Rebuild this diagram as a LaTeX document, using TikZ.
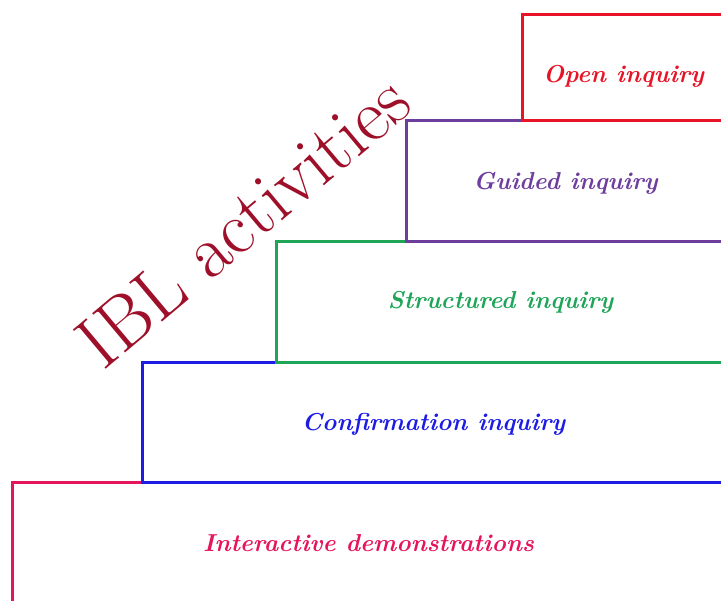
\documentclass[tikz,border=0pt]{standalone}
\usetikzlibrary{positioning}

\definecolor{openred}{RGB}{230,20,38}
\definecolor{guidedpurple}{RGB}{110,62,158}
\definecolor{structgreen}{RGB}{30,165,88}
\definecolor{confblue}{RGB}{28,28,228}
\definecolor{interpink}{RGB}{230,20,92}
\definecolor{iblred}{RGB}{158,16,42}

\begin{document}
\begin{tikzpicture}
    [x=1pt,y=-1pt,
    stepbox/.style={rectangle,draw=#1,text=#1,line width=3pt,
                    anchor=north west,inner sep=0pt,outer sep=0pt,
                    font=\fontsize{24.5}{28}\selectfont\bfseries\itshape},
    ibltitle/.style={text=iblred,rotate=40,inner sep=0pt,
                     font=\fontsize{75}{80}\selectfont}]

    \useasboundingbox (0,0) rectangle (721,601);
    \clip (0,0) rectangle (721,601);

    % lowest step first, so the upper edges lie on top
    \node[stepbox=interpink,minimum width=713pt,minimum height=120pt]
        (interactive) at (12,483) {Interactive demonstrations};
    \node[stepbox=confblue,minimum width=583pt,minimum height=120pt,
          text height=20pt]
        (confirmation) at (142,363) {Confirmation inquiry};
    \node[stepbox=structgreen,minimum width=449pt,minimum height=121pt]
        (structured) at (276,242) {Structured inquiry};
    \node[stepbox=guidedpurple,minimum width=319pt,minimum height=121pt,
          text height=20pt]
        (guided) at (406,121) {Guided inquiry};
    \node[stepbox=openred,minimum width=203pt,minimum height=106pt,
          text height=33pt]
        (open) at (522,15) {Open inquiry};

    \node[ibltitle] (ibl) at (243,221) {IBL activities};
\end{tikzpicture}
\end{document}
